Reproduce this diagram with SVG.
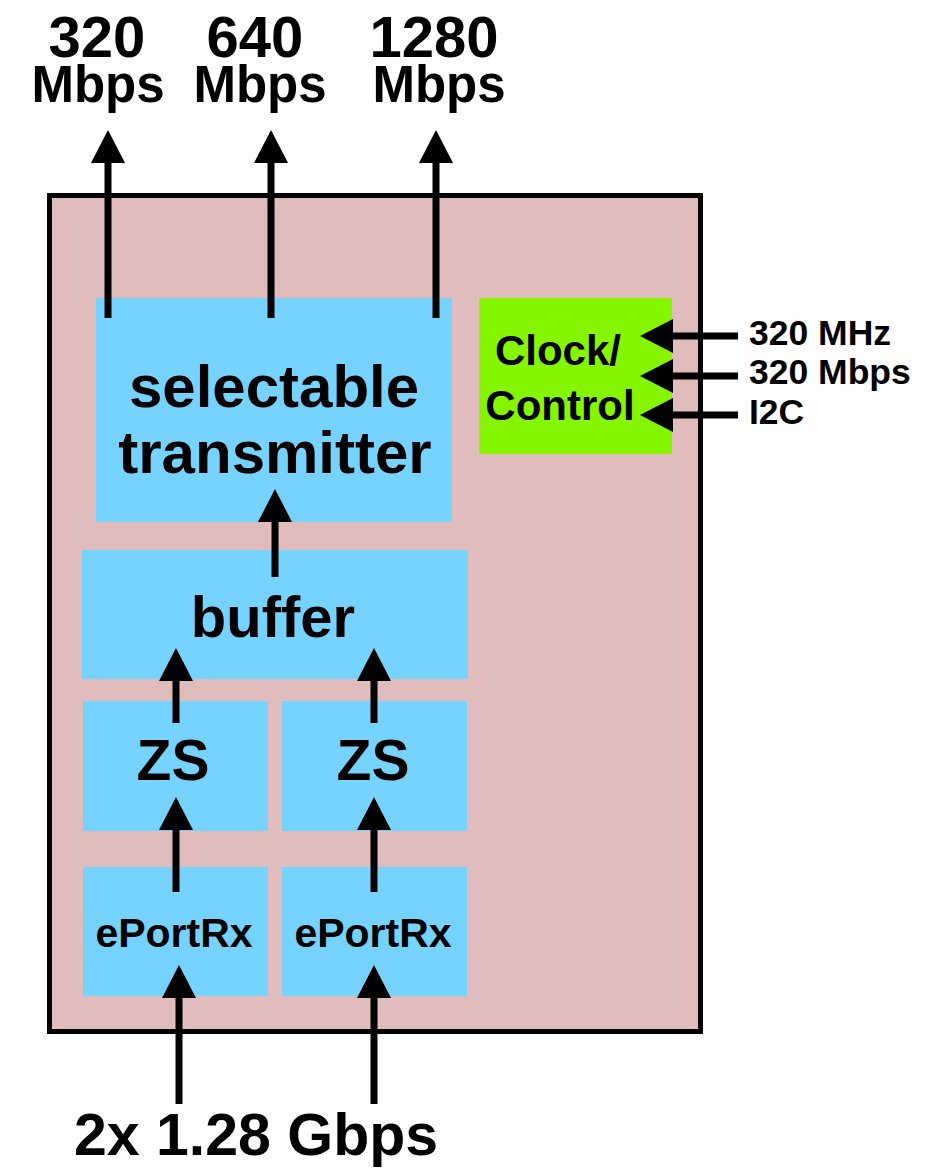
<svg xmlns="http://www.w3.org/2000/svg" width="930" height="1168" viewBox="0 0 930 1168">
<style>
text{font-family:"Liberation Sans",Arial,sans-serif;font-weight:bold;fill:#000}
.blk{fill:#76D3FF}
.c{text-anchor:middle}
.ln{stroke:#000;stroke-width:7;fill:none;marker-end:url(#ah)}
</style>
<defs>
<marker id="ah" viewBox="0 -17 33 34" refX="0" refY="0" markerWidth="33" markerHeight="34" markerUnits="userSpaceOnUse" orient="auto">
<path d="M0,-17 L33,0 L0,17 Z" fill="#000"/>
</marker>
</defs>
<rect fill="#fff" width="930" height="1168"/>
<g id="chip">
<rect x="49.5" y="195.5" width="651" height="836" fill="#E0BCBC" stroke="#000" stroke-width="5"/>
</g>
<g id="transmitter">
<rect class="blk" x="96" y="298" width="356" height="224"/>
<text class="c" font-size="60"><tspan x="274" y="407">selectable</tspan><tspan x="275" y="473">transmitter</tspan></text>
</g>
<g id="clock">
<rect x="479" y="298" width="193" height="156" fill="#86F500"/>
<text class="c" font-size="42"><tspan x="558" y="365">Clock/</tspan><tspan x="560" y="420">Control</tspan></text>
</g>
<g id="buffer">
<rect class="blk" x="82" y="550" width="386" height="129"/>
<text class="c" x="273" y="637" font-size="58">buffer</text>
</g>
<g id="zs1">
<rect class="blk" x="83" y="701" width="185" height="130"/>
<text class="c" x="173" y="780" font-size="57">ZS</text>
</g>
<g id="zs2">
<rect class="blk" x="282" y="701" width="185" height="130"/>
<text class="c" x="373" y="780" font-size="57">ZS</text>
</g>
<g id="eport1">
<rect class="blk" x="83" y="867" width="185" height="129"/>
<text class="c" x="174" y="947" font-size="41">ePortRx</text>
</g>
<g id="eport2">
<rect class="blk" x="282" y="867" width="185" height="129"/>
<text class="c" x="373" y="947" font-size="41">ePortRx</text>
</g>
<g id="labels">
<text class="c"><tspan x="97" y="57" font-size="58">320</tspan><tspan x="98" y="102" font-size="51">Mbps</tspan></text>
<text class="c"><tspan x="255" y="57" font-size="58">640</tspan><tspan x="260" y="102" font-size="51">Mbps</tspan></text>
<text class="c"><tspan x="434" y="57" font-size="58">1280</tspan><tspan x="439" y="102" font-size="51">Mbps</tspan></text>
<text x="749" y="345" font-size="35.5">320 MHz</text>
<text x="749" y="384" font-size="35.5">320 Mbps</text>
<text x="749" y="424" font-size="35.5">I2C</text>
<text x="74" y="1155" font-size="59">2x 1.28 Gbps</text>
</g>
<g id="connectors">
<path class="ln" d="M108,318 V163"/>
<path class="ln" d="M271,318 V163"/>
<path class="ln" d="M436,318 V163"/>
<path class="ln" d="M275,577 V522"/>
<path class="ln" d="M176,723 V681"/>
<path class="ln" d="M374,723 V681"/>
<path class="ln" d="M176,892 V830"/>
<path class="ln" d="M374,892 V830"/>
<path class="ln" d="M179,1104 V998"/>
<path class="ln" d="M374,1104 V998"/>
<path class="ln" d="M738,336 H673"/>
<path class="ln" d="M738,376 H673"/>
<path class="ln" d="M738,415 H673"/>
</g>
</svg>
